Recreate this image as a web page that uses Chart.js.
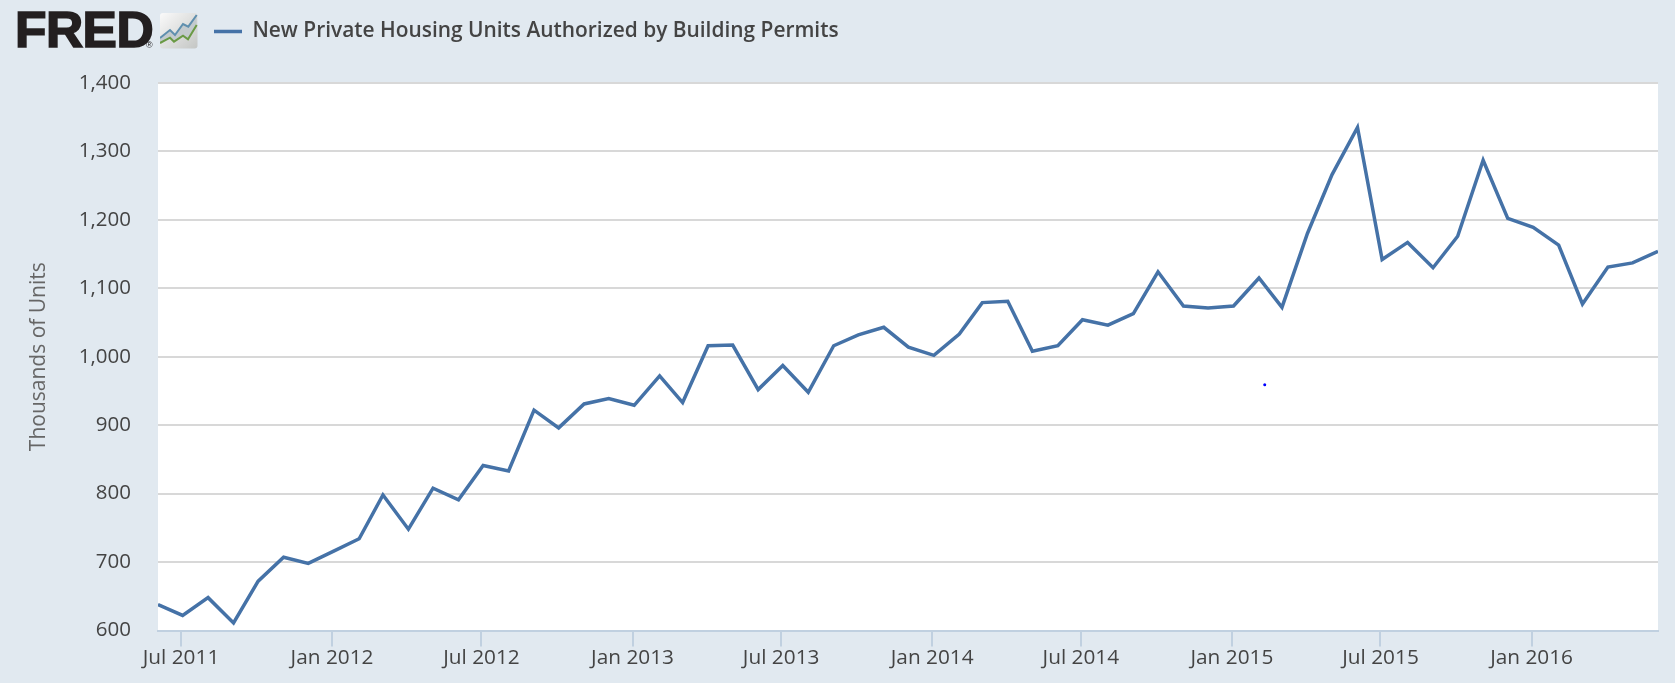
<!DOCTYPE html>
<html>
<head>
<meta charset="utf-8">
<script src="https://cdn.jsdelivr.net/npm/chart.js@4"></script>
<style>
html,body{margin:0;padding:0;background:#e1e9f0;width:1675px;height:683px;overflow:hidden}
#wrap{position:relative;width:1675px;height:683px}
canvas{position:absolute;left:0;top:0}
#logo{position:absolute;left:15px;top:5px;font:900 50px/50px "Liberation Sans",Arial,sans-serif;color:#231f20;-webkit-text-stroke:1.6px #231f20;letter-spacing:-0.5px;transform-origin:0 0;transform:scaleX(1.03)}
#reg{position:absolute;left:146px;top:41px;font:9px/9px "Liberation Sans",sans-serif;color:#231f20}
#icon{position:absolute;left:160px;top:13px}
</style>
</head>
<body>
<div id="wrap">
<canvas id="c" width="1675" height="683"></canvas>
<div id="logo">FRED</div><div id="reg">®</div>
<svg id="icon" width="38" height="36" viewBox="0 0 38 36">
<defs><linearGradient id="g" x1="0" y1="0" x2="1" y2="1"><stop offset="0" stop-color="#fafafa"/><stop offset="1" stop-color="#c4c6c4"/></linearGradient></defs>
<rect x="0" y="0" width="37.5" height="35.5" rx="3" fill="url(#g)"/>
<polygon points="0,25 10,17 15,22 23,11 28.3,13.7 36.7,2 36.7,12 28,26.3 23,22.7 14,28.7 10,24.7 0,30" fill="#c3cacd"/>
<polyline points="0,25 10,17 15,22 23,11 28.3,13.7 36.7,2" fill="none" stroke="#5f8fae" stroke-width="2"/>
<polyline points="0,30 10,24.7 14,28.7 23,22.7 28,26.3 36.7,12" fill="none" stroke="#6a9a45" stroke-width="2"/>
</svg>
</div>
<script>
const seriesName = "New Private Housing Units Authorized by Building Permits";
const axisTitle = "Thousands of Units";
const startYear = 2011, startMonth = 5; // first observation: June 2011
const permits = [638,622,648,611,672,707,698,716,734,798,748,808,791,841,833,922,896,931,939,929,972,933,1016,1017,952,987,948,1016,1032,1043,1014,1002,1033,1079,1081,1008,1016,1054,1046,1063,1124,1074,1071,1074,1115,1072,1180,1266,1335,1142,1167,1130,1176,1287,1202,1189,1163,1077,1131,1137,1154];
const tickYears  = [2011,2012,2012,2013,2013,2014,2014,2015,2015,2016];
const tickMonths = [6,0,6,0,6,0,6,0,6,0];
const tickDay = -1; // the source axis draws its ticks just ahead of the month's first observation
const tickLabels = ["Jul 2011","Jan 2012","Jul 2012","Jan 2013","Jul 2013","Jan 2014","Jul 2014","Jan 2015","Jul 2015","Jan 2016"];
const yTicks = [600,700,800,900,1000,1100,1200,1300,1400];
const strayDate = [2015,1,8];
const strayValue = [959];

const permitPoints = permits.map((v,i)=>({x:Date.UTC(startYear,startMonth+i,1),y:v}));
const tickTimes = tickYears.map((y,i)=>Date.UTC(y,tickMonths[i],tickDay));
const labelByTime = new Map(tickTimes.map((t,i)=>[t,tickLabels[i]]));

const framePlugin = {
  id:'framePlugin',
  afterLayout(chart){
    const l = chart.legend;
    l.left = 204; l.right = 1000;
    const h = l.bottom - l.top;
    l.top = 11; l.bottom = 11 + h;
  },
  beforeDraw(chart){
    const a = chart.chartArea, c = chart.ctx;
    c.save(); c.fillStyle = '#ffffff';
    c.fillRect(a.left,a.top,a.right-a.left,a.bottom-a.top);
    c.restore();
  }
};

new Chart(document.getElementById('c'),{
  type:'line',
  data:{datasets:[
    {label:seriesName,data:permitPoints,borderColor:'#4572a7',backgroundColor:'#4572a7',borderWidth:3.5,pointRadius:0,tension:0,borderJoinStyle:'miter',order:1},
    {label:'stray',data:[{x:Date.UTC(...strayDate),y:strayValue[0]}],showLine:false,pointRadius:1.5,pointBackgroundColor:'#0000ff',pointBorderWidth:0,order:2}
  ]},
  plugins:[framePlugin],
  options:{
    responsive:false,animation:false,
    layout:{padding:{top:42,right:17,left:0,bottom:0}},
    plugins:{
      tooltip:{enabled:false},
      legend:{display:true,position:'top',align:'start',
        labels:{boxWidth:28,boxHeight:0,padding:10,color:'#444444',
          font:{family:'"Open Sans"',size:20.9,weight:'600'},
          filter:i=>i.datasetIndex===0}}
    },
    scales:{
      x:{type:'linear',
        min:permitPoints[0].x,max:permitPoints[permitPoints.length-1].x,
        afterBuildTicks(s){s.ticks=tickTimes.map(v=>({value:v}));},
        afterFit(s){s.height=52.5;},
        ticks:{autoSkip:false,maxRotation:0,padding:-1,color:'#444444',
          font:{family:'"Open Sans"',size:20.8},
          callback:v=>labelByTime.get(v)||''},
        grid:{drawOnChartArea:false,drawTicks:true,tickLength:16,tickColor:'#c0d0e0',lineWidth:2},
        border:{color:'#c0d0e0',width:2}
      },
      y:{min:600,max:1400,
        afterBuildTicks(s){s.ticks=yTicks.map(v=>({value:v}));},
        afterFit(s){s.width=158;},
        title:{display:true,text:axisTitle,color:'#666666',font:{family:'"Open Sans"',size:21},padding:{top:26,bottom:0}},
        ticks:{padding:27,color:'#444444',font:{family:'"Open Sans"',size:20.5},
          callback:v=>v.toLocaleString('en-US')},
        grid:{color:'#d8d8d8',lineWidth:2,drawTicks:false},
        border:{display:false}
      }
    }
  }
});
</script>
</body>
</html>
